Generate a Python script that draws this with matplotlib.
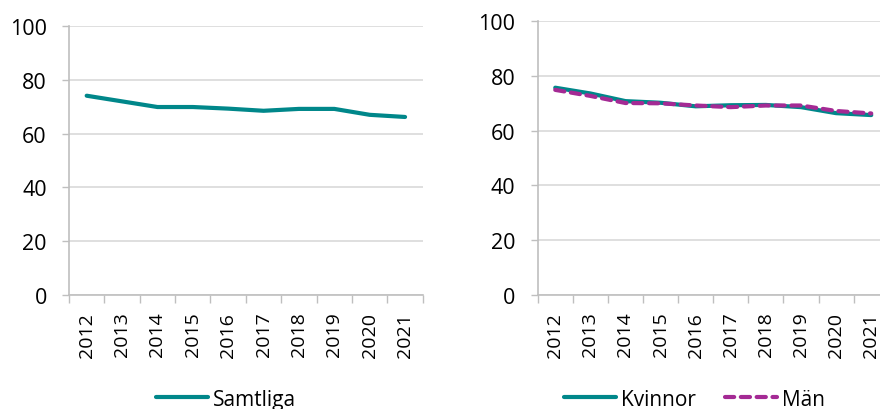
import numpy as np
import matplotlib
matplotlib.use("Agg")
import matplotlib.pyplot as plt
from matplotlib.ticker import FixedLocator, NullFormatter

plt.rcParams['font.family'] = ['Open Sans', 'DejaVu Sans']

years = ["2012", "2013", "2014", "2015", "2016", "2017", "2018", "2019", "2020", "2021"]
samtliga = [74.1, 72.0, 69.9, 69.9, 69.3, 68.5, 69.2, 69.2, 67.0, 66.2]
kvinnor = [75.7, 73.6, 70.8, 70.2, 68.9, 69.3, 69.4, 68.6, 66.4, 65.7]
man = [74.9, 72.7, 70.1, 70.0, 69.2, 68.6, 69.2, 69.2, 67.2, 66.3]

teal = "#00878a"
purple = "#a42a94"
grid_c = "#d9d9d9"
axis_c = "#bfbfbf"

fig = plt.figure(figsize=(8.8, 4.1), dpi=100)
ax1 = fig.add_axes([0.0784, 0.278, 0.402, 0.656])
ax2 = fig.add_axes([0.611, 0.278, 0.399, 0.668])

x = np.arange(len(years))


def style(ax):
    ax.set_xlim(-0.5, len(years) - 0.5)
    ax.set_ylim(0, 100)
    ax.set_yticks(range(0, 101, 20))
    ax.set_xticks(x)
    ax.set_xticklabels(years, rotation=90, fontsize=14)
    ax.xaxis.set_minor_locator(FixedLocator(np.arange(-0.5, len(years), 1.0)))
    ax.xaxis.set_minor_formatter(NullFormatter())
    ax.tick_params(axis='x', which='major', length=0, pad=12)
    ax.tick_params(axis='x', which='minor', length=6, color=axis_c, width=1)
    ax.tick_params(axis='y', length=5, color=axis_c, width=1, pad=11, labelsize=15.5)
    ax.grid(axis='y', color=grid_c, linewidth=1.2)
    ax.set_axisbelow(True)
    for s in ['top', 'right']:
        ax.spines[s].set_visible(False)
    for s in ['left', 'bottom']:
        ax.spines[s].set_color(axis_c)
        ax.spines[s].set_linewidth(1.2)


style(ax1)
style(ax2)

l1, = ax1.plot(x, samtliga, color=teal, linewidth=3, solid_capstyle='round',
               label="Samtliga")
l2, = ax2.plot(x, kvinnor, color=teal, linewidth=3, solid_capstyle='round',
               label="Kvinnor")
l3, = ax2.plot(x, man, color=purple, linewidth=3, linestyle=(0, (2.2, 1.6)),
               dash_capstyle='round', label="Män")

fig.legend(handles=[l1], loc='center', bbox_to_anchor=(0.257, 0.024),
           frameon=False, fontsize=15, handlelength=2.5, handletextpad=0.25)
fig.legend(handles=[l2, l3], loc='center', bbox_to_anchor=(0.789, 0.024),
           frameon=False, fontsize=15, ncol=2, handlelength=2.5,
           handletextpad=0.25, columnspacing=1.4)

fig.savefig("out.png", dpi=100)
